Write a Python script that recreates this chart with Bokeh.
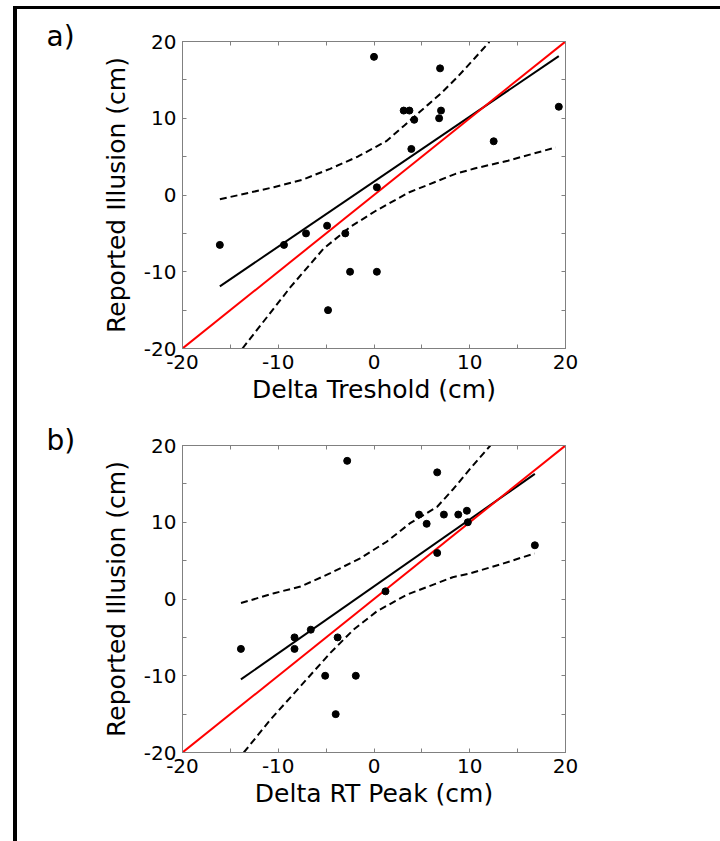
from bokeh.plotting import figure
from bokeh.models import LinearAxis, FixedTicker, Title
from bokeh.layouts import column
from bokeh.embed import file_html
from bokeh.resources import INLINE

# ---------------- data ----------------
illusion = [18, 16.5, 11, 11, 11, 11.5, 10, 9.8, 7, 6, 1, -4, -5, -5, -6.5, -6.5, -10, -10, -15]

# panel a: Delta threshold
thr_x = [0.0, 6.9, 3.1, 3.7, 7.0, 19.3, 6.8, 4.2, 12.5, 3.9, 0.3, -4.9, -7.1, -3.0, -16.1, -9.4, -2.5, 0.3, -4.8]
fit_a_x = [-16.1, 19.3]
fit_a_y = [-11.9, 18.1]
up_a_x = [-16.1, -10.46, -7.45, -4.59, -1.66, 1.28, 3.17, 5.59, 6.99, 8.74, 10.49, 12.06]
up_a_y = [-0.56, 1.02, 2.0, 3.41, 5.02, 7.01, 9.06, 11.71, 13.23, 15.4, 17.79, 19.96]
lo_a_x = [-13.74, -8.73, -5.28, -2.52, 0.24, 3.69, 8.52, 10.49, 13.99, 18.99]
lo_a_y = [-20.0, -12.01, -7.01, -4.19, -2.02, 0.36, 2.76, 3.45, 4.47, 6.2]

# panel b: Delta RT peak
rt_x = [-2.8, 6.6, 4.7, 7.3, 8.8, 9.7, 9.8, 5.5, 16.8, 6.6, 1.2, -6.6, -8.3, -3.8, -13.9, -8.3, -5.1, -1.9, -4.0]
fit_b_x = [-13.9, 16.8]
fit_b_y = [-10.48, 16.3]
up_b_x = [-13.89, -10.43, -7.67, -4.56, -1.45, 1.32, 3.73, 6.6, 8.33, 10.07, 12.15]
up_b_y = [-0.53, 0.76, 1.62, 3.36, 5.3, 7.46, 9.84, 12.02, 14.4, 17.01, 20.0]
lo_b_x = [-13.6, -10.78, -7.67, -4.56, -2.14, 0.28, 3.39, 8.22, 10.07, 13.54, 16.77]
lo_b_y = [-20.0, -15.67, -11.35, -7.02, -4.0, -1.62, 0.54, 2.84, 3.35, 4.64, 5.94]

ident = [-20, 20]
major_ticks = [-20, -10, 0, 10, 20]
minor_ticks = [-15, -5, 5, 15]
all_ticks = [-20, -15, -10, -5, 0, 5, 10, 15, 20]
tick_text = {-20: "-20", -10: "-10", 0: "0", 10: "10", 20: "20"}

FONT = "DejaVu Sans"
GRAY = "#808080"


def panel(xs, ys, fx, fy, ux, uy, lx, ly, xlabel, tag, top_border, height):
    title = Title(text=tag, align="left", offset=-136, standoff=-23,
                  text_font=FONT, text_font_size="28px", text_font_style="normal",
                  text_color="black")
    p = figure(width=567, height=height, x_range=(-20, 20), y_range=(-20, 20),
               output_backend="svg", toolbar_location=None, title=title,
               min_border_left=165, min_border_right=19,
               min_border_top=top_border, min_border_bottom=70,
               x_axis_location=None, y_axis_location=None)
    p.grid.visible = False
    p.outline_line_color = GRAY
    p.outline_line_width = 1
    p.background_fill_color = "white"
    p.border_fill_color = "white"

    def style(ax, labels):
        if labels:
            ax.ticker = FixedTicker(ticks=major_ticks, minor_ticks=minor_ticks)
            ax.major_label_overrides = tick_text
            ax.major_label_text_font = FONT
            ax.major_label_text_font_size = "20px"
            ax.major_label_text_color = "black"
            ax.axis_label_text_font = FONT
            ax.axis_label_text_font_size = "25px"
            ax.axis_label_text_font_style = "normal"
            ax.axis_label_text_color = "black"
        else:
            ax.ticker = FixedTicker(ticks=[], minor_ticks=all_ticks)
            ax.major_label_standoff = 0
            ax.axis_label_standoff = 0
        ax.major_tick_in = 4
        ax.major_tick_out = 0
        ax.minor_tick_in = 4
        ax.minor_tick_out = 0
        ax.axis_line_color = GRAY
        ax.major_tick_line_color = GRAY
        ax.minor_tick_line_color = GRAY

    bx = LinearAxis(axis_label=xlabel, major_label_standoff=6, axis_label_standoff=3)
    style(bx, True)
    ly_ax = LinearAxis(axis_label="Reported Illusion (cm)", major_label_standoff=6,
                       axis_label_standoff=10)
    style(ly_ax, True)
    tx = LinearAxis()
    style(tx, False)
    ry = LinearAxis()
    style(ry, False)
    p.add_layout(bx, "below")
    p.add_layout(ly_ax, "left")
    p.add_layout(tx, "above")
    p.add_layout(ry, "right")

    p.line(ux, uy, line_color="black", line_width=2, line_dash="7 4")
    p.line(lx, ly, line_color="black", line_width=2, line_dash="7 4")
    p.line(fx, fy, line_color="black", line_width=2)
    p.line(ident, ident, line_color="red", line_width=2)
    p.scatter(xs, ys, size=7, color="black")
    return p


pa = panel(thr_x, illusion, fit_a_x, fit_a_y, up_a_x, up_a_y, lo_a_x, lo_a_y,
           "Delta Treshold (cm)", "a)", 32, 409)
pb = panel(rt_x, illusion, fit_b_x, fit_b_y, up_b_x, up_b_y, lo_b_x, lo_b_y,
           "Delta RT Peak (cm)", "b)", 27, 404)

layout = column(pa, pb, margin=(6, 0, 0, 13), width=707, height=835,
                styles={"border-left": "4px solid black", "border-top": "3px solid black",
                        "background-color": "white"})

open("out.html", "w").write(file_html(layout, INLINE))
